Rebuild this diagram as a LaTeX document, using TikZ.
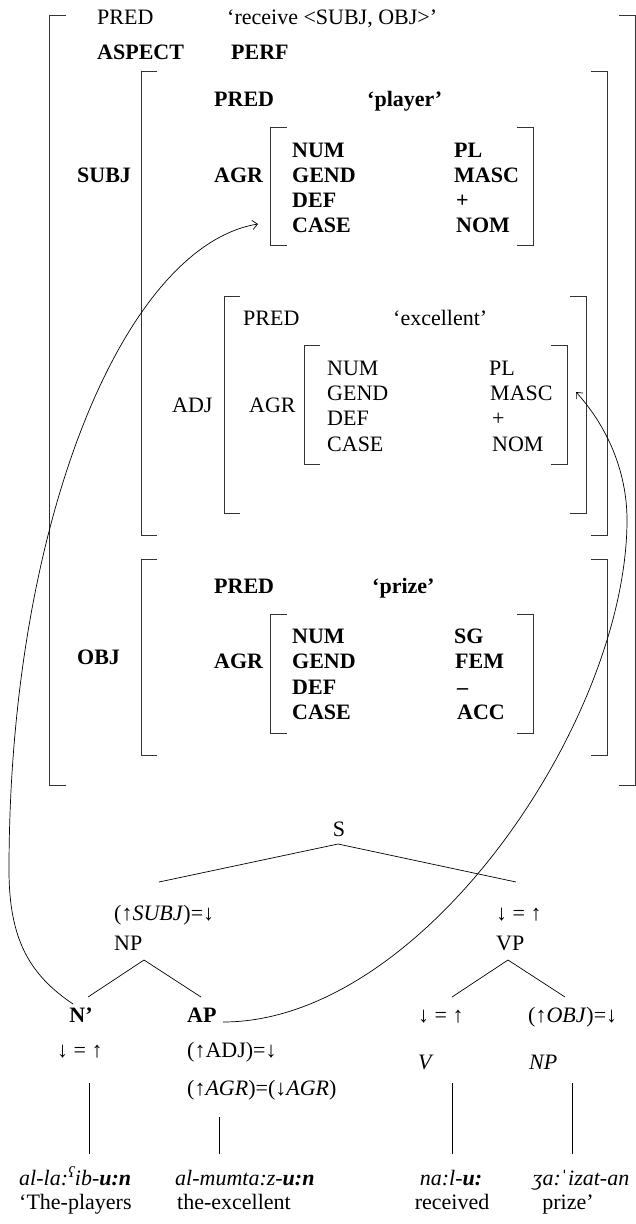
\documentclass[tikz,border=0pt]{standalone}
\usepackage{fontspec}
\setmainfont{Liberation Serif}
\usetikzlibrary{arrows.meta}
\newcommand\fsLeft[3]{\draw[brk] (#1+16,#2) -- (#1,#2) -- (#1,#3) -- (#1+16,#3);}
\newcommand\fsRight[3]{\draw[brk] (#1-16,#2) -- (#1,#2) -- (#1,#3) -- (#1-16,#3);}
\begin{document}
\begin{tikzpicture}[x=1pt,y=-1pt,
  txt/.style={anchor=base west,inner sep=0pt,font=\fontsize{22}{26}\selectfont},
  btxt/.style={anchor=base west,inner sep=0pt,font=\fontsize{22}{26}\selectfont\bfseries},
  ctxt/.style={anchor=base,inner sep=0pt,font=\fontsize{22}{26}\selectfont},
  bctxt/.style={anchor=base,inner sep=0pt,font=\fontsize{22}{26}\selectfont\bfseries},
  brk/.style={line width=0.8pt,draw=black!80},
  edge/.style={line width=0.7pt},
  link/.style={line width=0.7pt,-{Straight Barb[length=5pt,width=9pt]}}
]
\useasboundingbox (0,0) rectangle (636,1224);

% ---------- outer f-structure ----------
\fsLeft{49.5}{15}{785}
\fsRight{635}{15}{785}
\node[txt]  (pred0)  at (97,24)  {PRED};
\node[txt]  (predv0) at (227,24) {‘receive <SUBJ, OBJ>’};
\node[btxt] (asp)    at (97,59)  {ASPECT};
\node[btxt] (perf)   at (231,59) {PERF};

% ---------- SUBJ ----------
\node[btxt] (subjl) at (77,182) {SUBJ};
\fsLeft{141}{71}{535}
\fsRight{607}{71}{535}
\node[btxt] (spred)  at (214,106) {PRED};
\node[btxt] (spredv) at (367,106) {‘player’};
\node[btxt] (sagr)   at (214,182) {AGR};
\fsLeft{270.5}{127}{245}
\fsRight{533}{127}{245}
\node[btxt] (snum)  at (292,157)   {NUM};
\node[btxt] (sgend) at (292,182)   {GEND};
\node[btxt] (sdef)  at (292,207)   {DEF};
\node[btxt] (scase) at (292,232.5) {CASE};
\node[btxt] (snumv)  at (454,157)   {PL};
\node[btxt] (sgendv) at (454,182)   {MASC};
\node[btxt] (sdefv)  at (456,207)   {+};
\node[btxt] (scasev) at (456,232.5) {NOM};

% ---------- ADJ ----------
\node[txt] (adjl) at (172,412) {ADJ};
\fsLeft{224}{296}{513}
\fsRight{586}{296}{513}
\node[txt] (apred)  at (243,325) {PRED};
\node[txt] (apredv) at (393,325) {‘excellent’};
\node[txt] (aagr)   at (249,412) {AGR};
\fsLeft{304}{345}{464}
\fsRight{567}{345}{464}
\node[txt] (anum)  at (327,375) {NUM};
\node[txt] (agend) at (327,400) {GEND};
\node[txt] (adef)  at (327,425) {DEF};
\node[txt] (acase) at (327,451) {CASE};
\node[txt] (anumv)  at (489,375) {PL};
\node[txt] (agendv) at (490,400) {MASC};
\node[txt] (adefv)  at (492,425) {+};
\node[txt] (acasev) at (492,451) {NOM};

% ---------- OBJ ----------
\node[btxt] (objl) at (77,664) {OBJ};
\fsLeft{141}{559}{755}
\fsRight{607}{559}{755}
\node[btxt] (opred)  at (214,593) {PRED};
\node[btxt] (opredv) at (372,593) {‘prize’};
\node[btxt] (oagr)   at (214,668.5) {AGR};
\fsLeft{270.5}{614}{733}
\fsRight{533}{614}{733}
\node[btxt] (onum)  at (292,643)   {NUM};
\node[btxt] (ogend) at (292,668.5) {GEND};
\node[btxt] (odef)  at (292,694)   {DEF};
\node[btxt] (ocase) at (292,719)   {CASE};
\node[btxt] (onumv)  at (454,643)   {SG};
\node[btxt] (ogendv) at (455,668.5) {FEM};
\node[btxt] (odefv)  at (457,694)   {–};
\node[btxt] (ocasev) at (457,719)   {ACC};

% ---------- c-structure ----------
\node[ctxt] (S) at (339,836) {S};
\node[txt] (annsubj) at (114,920) {(↑\textit{SUBJ})=↓};
\node[txt] (annvp)   at (496,920) {↓ = ↑};
\node[txt] (NP) at (114,950) {NP};
\node[txt] (VP) at (496,950) {VP};
\node[bctxt] (Nbar) at (81,1022) {N'};
\node[btxt]  (AP)   at (187,1022) {AP};
\node[txt] (annN)   at (57,1057)  {↓ = ↑};
\node[txt] (annAP)  at (187,1057) {(↑ADJ)=↓};
\node[txt] (annAGR) at (187,1095) {(↑\textit{AGR})=(↓\textit{AGR})};
\node[txt] (annV)   at (418,1022) {↓ = ↑};
\node[txt] (annObj) at (528,1022) {(↑\textit{OBJ})=↓};
\node[txt] (V)   at (418,1069) {\textit{V}};
\node[txt] (NP2) at (529,1069) {\textit{NP}};

\node[txt]  (w1) at (19,1185)  {\textit{al-la:\textsuperscript{ʕ}ib-\textbf{u:n}}};
\node[txt]  (w2) at (175,1185) {\textit{al-mumta:z-\textbf{u:n}}};
\node[ctxt] (w3) at (451,1185) {\textit{na:l-\textbf{u:}}};
\node[ctxt] (w4) at (581,1185) {\textit{ʒa:ˈizat-an}};
\node[txt]  (g1) at (19,1209)  {‘The-players};
\node[txt]  (g2) at (177,1209) {the-excellent};
\node[ctxt] (g3) at (452,1209) {received};
\node[ctxt] (g4) at (568,1209) {prize’};

% tree edges
\coordinate (Sb)  at (338,844);
\coordinate (NPt) at (159,882);
\coordinate (VPt) at (516,882);
\draw[edge] (NPt) -- (Sb) -- (VPt);
\coordinate (NPb) at (144,960);
\coordinate (NPl) at (88,997);
\coordinate (NPr) at (201,997);
\draw[edge] (NPl) -- (NPb) -- (NPr);
\coordinate (VPb) at (508,960);
\coordinate (VPl) at (452,997);
\coordinate (VPr) at (565,997);
\draw[edge] (VPl) -- (VPb) -- (VPr);
\coordinate (l1t) at (89,1083);  \coordinate (l1b) at (89,1154);
\coordinate (l2t) at (219,1117); \coordinate (l2b) at (219,1154);
\coordinate (l3t) at (452,1083); \coordinate (l3b) at (452,1154);
\coordinate (l4t) at (572,1083); \coordinate (l4b) at (572,1154);
\draw[edge] (l1t) -- (l1b);
\draw[edge] (l2t) -- (l2b);
\draw[edge] (l3t) -- (l3b);
\draw[edge] (l4t) -- (l4b);

% mapping arrows
\coordinate (c1a) at (73,1004);
\coordinate (c1b) at (9,870);
\coordinate (c1e) at (258,224);
\draw[link] (c1a) .. controls (30,975) and (9,940) .. (c1b)
                  .. controls (9,520) and (125,246) .. (c1e);
\coordinate (c2a) at (223,1022);
\coordinate (c2m) at (627,520);
\coordinate (c2e) at (576,392);
\draw[link] (c2a) .. controls (423,1022) and (627,720) .. (c2m)
                  .. controls (627,470) and (606,425) .. (c2e);
\end{tikzpicture}
\end{document}
